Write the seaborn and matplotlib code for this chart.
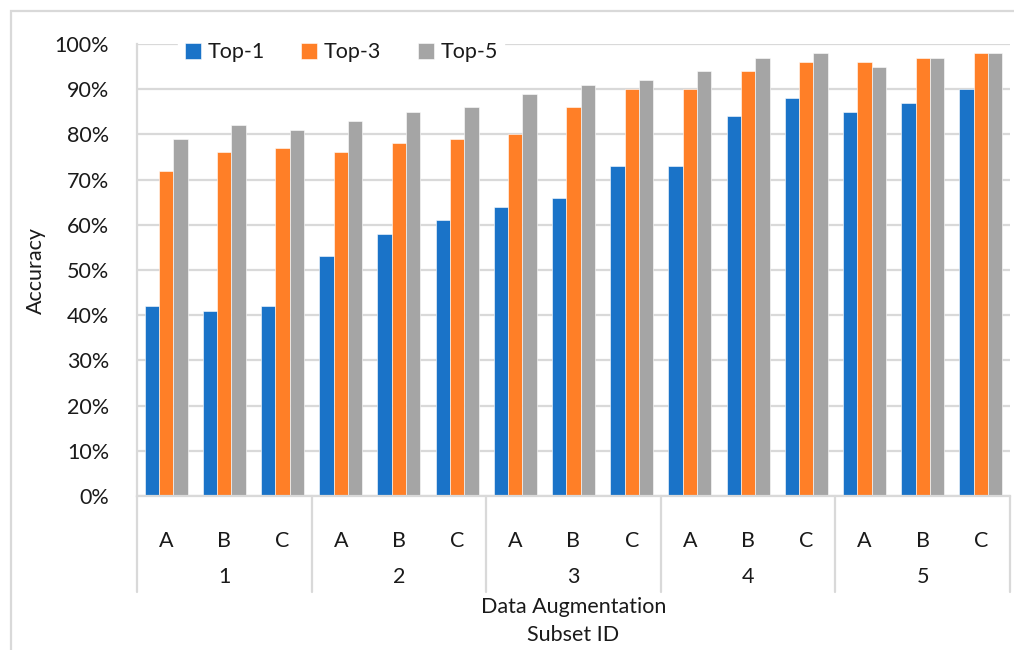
import matplotlib
matplotlib.use("Agg")
import matplotlib.pyplot as plt
import matplotlib.transforms as mtransforms
from matplotlib.patches import Rectangle
import pandas as pd
import seaborn as sns

# Data
subset_ids = ["1", "2", "3", "4", "5"]
augmentations = ["A", "B", "C"]
top1 = [42, 41, 42, 53, 58, 61, 64, 66, 73, 73, 84, 88, 85, 87, 90]
top3 = [72, 76, 77, 76, 78, 79, 80, 86, 90, 90, 94, 96, 96, 97, 98]
top5 = [79, 82, 81, 83, 85, 86, 89, 91, 92, 94, 97, 98, 95, 97, 98]
series_names = ["Top-1", "Top-3", "Top-5"]
colors = ["#1A73C8", "#FF7F27", "#A5A5A5"]

cats = [s + a for s in subset_ids for a in augmentations]
df = pd.DataFrame({
    "cat": cats * 3,
    "series": [n for n in series_names for _ in cats],
    "acc": top1 + top3 + top5,
})

sns.set_theme(style="white")
plt.rcParams["font.family"] = ["Lato", "DejaVu Sans"]
text_color = "#1a1a1a"
line_color = "#D9D9D9"
fs = 15.5

fig = plt.figure(figsize=(10.14, 6.5), dpi=100)
ax = fig.add_axes([137 / 1014, 1 - 496 / 650, (1010 - 137) / 1014, (496 - 44) / 650])

sns.barplot(data=df, x="cat", y="acc", hue="series", order=cats,
            hue_order=series_names, palette=colors, width=0.74,
            saturation=1, edgecolor="white", linewidth=0.4, ax=ax)

ax.set_ylim(0, 100)
ax.set_xlim(-0.5, len(cats) - 0.5)
ax.set_yticks(range(0, 101, 10))
ax.set_yticklabels([f"{v}%" for v in range(0, 101, 10)], fontsize=fs, color=text_color)
ax.yaxis.grid(True, color=line_color, linewidth=1.6)
ax.set_axisbelow(True)
ax.tick_params(axis="y", length=0, pad=20)
ax.tick_params(axis="x", length=0, pad=25)
ax.set_xticks(range(len(cats)))
ax.set_xticklabels(augmentations * len(subset_ids), fontsize=fs, color=text_color)
for side in ["top", "right"]:
    ax.spines[side].set_visible(False)
for side in ["left", "bottom"]:
    ax.spines[side].set_color(line_color)
    ax.spines[side].set_linewidth(1.6)
ax.set_xlabel("")
ax.set_ylabel("Accuracy", fontsize=fs, color=text_color, labelpad=6)

# group labels and separators for the two-level category axis
trans = mtransforms.blended_transform_factory(ax.transData, ax.transAxes)
for i, sid in enumerate(subset_ids):
    ax.text(i * 3 + 1, -0.18, sid, transform=trans, ha="center", va="center",
            fontsize=fs, color=text_color)
for b in range(len(subset_ids) + 1):
    ax.plot([b * 3 - 0.5, b * 3 - 0.5], [0, -0.212], transform=trans,
            color=line_color, linewidth=1.6, clip_on=False)

ax.text(0.5, -0.246, "Data Augmentation", transform=ax.transAxes, ha="center",
        va="center", fontsize=fs, color=text_color)
ax.text(0.5, -0.308, "Subset ID", transform=ax.transAxes, ha="center",
        va="center", fontsize=fs, color=text_color)

leg = ax.legend(loc="center", bbox_to_anchor=(0.234, 0.982), ncol=3, frameon=True,
                fontsize=fs, handlelength=0.75, handleheight=0.75,
                handletextpad=0.3, columnspacing=1.7, borderpad=0.3)
leg.get_frame().set_facecolor("white")
leg.get_frame().set_edgecolor("white")
leg.get_frame().set_alpha(1)
for t in leg.get_texts():
    t.set_color(text_color)

# outer chart frame
fig.patches.append(Rectangle((11 / 1014, -0.1), 1.2, 1 - 11 / 650 + 0.1,
                             transform=fig.transFigure, fill=False,
                             edgecolor=line_color, linewidth=1.6))

fig.savefig("out.png", dpi=100)
